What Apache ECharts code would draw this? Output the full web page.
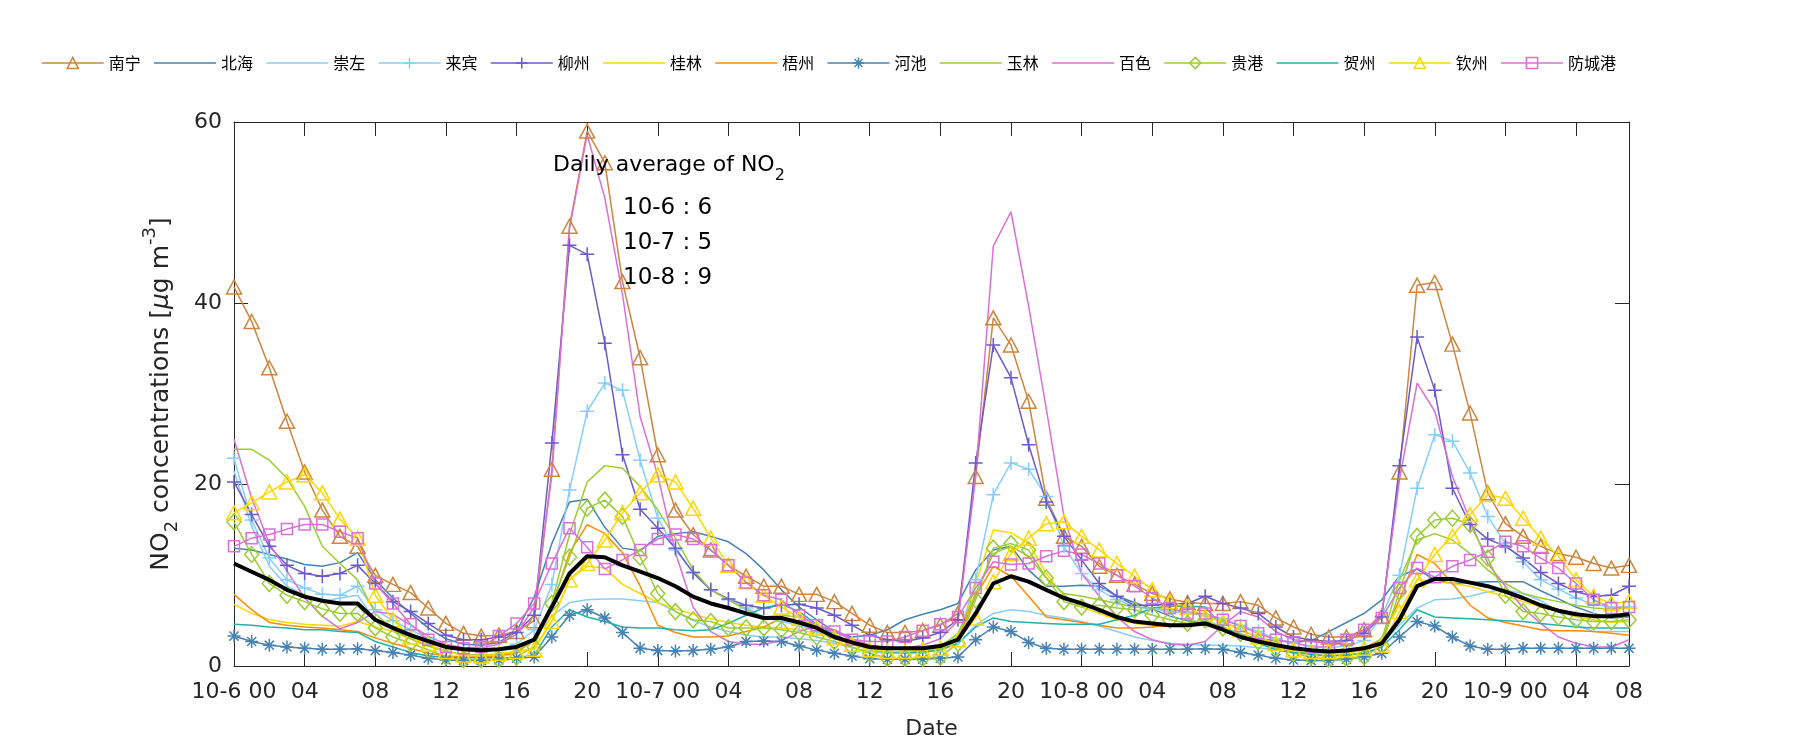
<!DOCTYPE html>
<html><head><meta charset="utf-8">
<script src="https://cdn.jsdelivr.net/npm/echarts@6/dist/echarts.min.js"></script>
<style>html,body{margin:0;padding:0;background:#fff}#c{width:1800px;height:750px}</style>
</head><body><div id="c"></div>
<script>
const tickValues = [0,4,8,12,16,20,24,28,32,36,40,44,48,52,56,60,64,68,72,76,79];
const tickLabels = ['10-6 00','04','08','12','16','20','10-7 00','04','08','12','16','20','10-8 00','04','08','12','16','20','10-9 00','04','08'];
const yTicks = [0, 20, 40, 60];

const nanning = [41.8,38.0,32.9,27.0,21.4,17.2,14.3,13.2,10.0,9.0, 8.1,6.4,4.7,3.6,3.3,3.4,3.8,5.0,21.7,48.5, 59.0,55.5,42.4,34.0,23.3,17.2,14.5,12.8,11.1,9.9, 8.8,8.8,7.9,7.9,7.1,5.8,4.5,3.7,3.7,3.9, 4.5,5.8,20.9,38.4,35.4,29.2,18.5,14.3,13.2,11.0, 10.0,9.0,8.0,7.4,7.0,6.9,6.9,7.1,6.7,5.3, 4.3,3.5,3.2,3.2,4.0,5.5,21.4,42.0,42.3,35.5, 27.9,19.1,15.7,14.3,13.2,12.4,12.0,11.3,10.8,11.1];
const beihai = [13.0,12.8,12.3,11.8,11.2,11.0,11.4,12.5,9.5,7.5, 5.8,4.2,3.0,2.4,2.3,2.6,3.8,7.6,13.5,18.1, 18.4,15.3,13.0,12.7,14.3,14.6,14.8,14.3,13.7,12.4, 10.6,8.4,6.5,5.1,3.8,3.2,3.4,4.0,5.1,5.7, 6.2,6.9,10.6,12.8,13.2,10.6,8.8,8.8,8.9,8.8, 7.7,7.0,6.3,5.5,5.0,4.8,4.0,3.5,3.0,2.8, 2.6,2.8,3.8,4.8,5.8,7.3,9.9,10.7,9.5,9.1, 9.2,9.3,9.3,9.3,8.3,7.4,6.5,5.8,5.3,5.4];
const chongzuo = [21.5,15.4,11.0,8.8,7.8,7.1,7.5,7.8,5.0,4.0, 3.2,2.5,2.0,1.7,1.7,1.8,2.2,3.0,5.5,7.0, 7.3,7.4,7.4,7.2,7.0,6.0,5.0,4.3,3.8,3.4, 3.2,3.2,3.0,2.8,2.5,2.0,1.6,1.4,1.4,1.5, 1.8,2.5,4.5,5.8,6.2,6.0,5.6,5.3,4.9,4.4, 3.8,3.2,2.8,2.5,2.4,2.3,2.3,2.2,2.0,1.8, 1.5,1.4,1.4,1.5,1.8,2.5,4.5,6.4,7.3,7.4, 7.7,8.2,8.4,8.0,7.2,6.0,4.5,3.8,3.8,3.8];
const laibin = [22.9,16.1,11.9,9.5,8.6,7.9,7.8,8.8,6.2,5.0, 4.0,3.0,2.2,1.8,1.7,1.9,2.4,4.0,9.0,19.4, 28.1,31.2,30.4,22.7,16.3,12.8,10.3,8.4,7.3,6.4, 5.4,4.9,4.5,3.8,3.2,2.5,2.1,1.95,1.95,2.0, 2.3,3.0,9.5,18.9,22.4,21.7,18.7,13.2,10.2,8.4, 7.3,6.5,6.3,6.0,5.8,5.6,5.2,4.5,3.8,3.0, 2.5,2.2,2.0,2.2,2.8,5.5,10.0,19.6,25.5,24.8, 21.3,16.5,13.5,11.5,9.5,8.5,7.5,6.8,6.5,6.5];
const liuzhou = [20.3,16.7,13.2,11.1,10.2,9.9,10.2,11.1,9.1,7.1, 6.0,4.7,3.4,2.9,2.9,3.2,3.7,5.6,24.6,46.4, 45.4,35.6,23.3,17.3,15.2,13.0,10.3,8.4,7.4,6.7, 6.4,6.7,6.8,6.4,5.6,4.5,3.4,2.9,2.7,3.1, 3.7,5.1,22.4,35.4,31.8,24.4,18.1,14.3,11.7,9.1, 7.7,6.7,6.7,6.8,6.9,7.7,6.9,6.4,5.8,4.3, 3.2,2.9,2.7,2.8,3.6,5.4,22.1,36.3,30.4,19.6, 15.6,14.0,13.2,11.9,10.3,9.1,8.2,7.7,7.8,8.8];
const guilin = [6.8,5.8,5.1,4.8,4.6,4.5,4.4,4.9,4.3,3.8, 3.0,2.2,1.6,1.2,1.1,1.2,1.5,2.0,5.0,9.5, 11.0,10.8,9.0,8.0,7.0,6.3,5.7,5.2,4.8,4.5, 4.3,4.2,4.0,3.6,3.0,2.4,1.8,1.5,1.4,1.5, 1.8,2.5,9.1,15.0,14.7,13.5,10.2,7.7,6.5,5.8, 5.1,4.7,4.5,4.5,4.5,4.5,4.0,3.2,2.5,1.95, 1.6,1.4,1.3,1.4,1.8,2.5,5.4,9.5,9.3,9.1, 8.8,8.2,7.7,7.1,6.5,6.0,5.4,5.1,4.8,4.9];
const wuzhou = [7.9,6.2,4.8,4.5,4.3,4.2,4.0,3.8,3.1,2.5, 1.95,1.4,1.1,1.0,1.0,1.1,1.4,3.0,6.5,12.5, 15.6,14.6,12.5,8.8,4.5,3.7,3.2,3.2,3.3,3.8, 4.3,5.3,4.9,4.2,3.2,2.5,1.95,1.6,1.5,1.6, 2.0,3.0,7.7,11.0,9.9,7.7,5.4,5.1,4.8,4.5, 4.2,4.2,4.3,4.5,4.7,4.9,4.3,3.4,2.7,2.1, 1.8,1.6,1.5,1.6,2.0,3.0,7.3,12.3,11.3,9.1, 6.7,5.3,4.8,4.4,4.0,3.9,3.9,3.8,3.6,3.4];
const hechi = [3.3,2.7,2.3,2.1,1.95,1.85,1.85,1.9,1.7,1.5, 1.2,0.85,0.66,0.6,0.6,0.66,0.85,1.0,3.2,5.6, 6.2,5.3,3.7,1.95,1.7,1.65,1.7,1.85,2.1,2.7, 2.75,2.7,2.2,1.75,1.4,1.1,0.8,0.75,0.75,0.75, 0.85,1.0,2.9,4.3,3.8,2.6,1.95,1.85,1.85,1.85, 1.85,1.85,1.85,1.85,1.85,1.9,1.85,1.5,1.2,0.85, 0.66,0.6,0.6,0.75,1.0,1.4,3.2,4.9,4.4,3.2, 2.2,1.85,1.85,1.95,1.95,1.95,1.95,1.95,1.95,1.95];
const yulin = [23.9,23.9,22.7,20.7,17.6,13.2,11.3,9.5,5.8,4.0, 3.0,2.2,1.6,1.3,1.2,1.3,1.6,3.0,7.0,14.5, 20.3,22.1,21.8,19.8,17.2,14.1,10.6,8.4,7.3,6.2, 5.4,5.6,5.4,4.3,3.2,2.5,1.95,1.6,1.4,1.6, 2.1,3.6,8.0,12.4,13.2,12.1,9.7,8.0,7.7,7.3, 6.9,6.5,6.4,6.2,6.0,5.6,4.9,4.0,3.1,2.3, 1.8,1.2,1.1,1.2,1.4,2.9,9.5,13.9,14.6,13.9, 12.4,10.6,9.1,8.0,7.5,7.1,6.7,6.4,6.3,6.4];
const baise = [25.0,18.5,13.5,10.5,7.5,5.5,4.1,4.8,6.0,5.7, 4.5,3.3,2.4,2.0,2.0,2.4,3.5,6.5,21.0,48.3, 58.6,51.6,41.0,27.5,21.0,12.5,6.5,3.8,2.7,2.4, 2.4,2.8,3.8,4.4,4.0,3.0,2.3,2.0,2.0,2.3, 3.0,5.0,20.9,46.3,50.1,39.7,28.4,16.5,10.2,7.7, 5.4,3.8,2.9,2.4,2.3,2.7,4.5,6.0,5.4,3.8, 2.9,2.7,2.5,2.7,3.8,5.8,20.5,31.2,28.1,20.9, 16.1,11.3,8.8,6.4,4.7,3.2,2.5,2.1,2.1,2.9];
const guigang = [15.9,12.3,9.1,7.8,7.1,6.3,5.8,5.8,4.2,3.2, 2.5,1.8,1.0,0.7,0.7,0.75,1.0,2.1,6.9,12.0, 17.4,18.3,16.5,12.0,8.0,6.0,5.1,4.9,4.2,4.2, 4.2,4.0,3.7,3.2,2.7,2.1,1.4,0.85,0.85,0.85, 1.0,2.5,7.3,13.0,13.5,12.8,9.7,7.1,6.5,6.7, 6.4,6.2,5.6,5.1,4.7,5.1,4.2,3.6,2.7,1.95, 1.4,1.0,0.75,0.85,1.0,2.3,8.2,14.3,16.1,16.3, 15.6,11.9,7.8,6.0,5.8,5.4,5.1,4.9,4.9,5.1];
const hezhou = [4.6,4.5,4.3,4.2,4.0,4.0,3.8,3.7,2.7,2.1, 1.5,1.1,0.95,0.9,0.9,0.9,0.95,1.2,4.3,6.2, 5.4,4.9,4.3,4.2,4.2,4.0,3.9,4.0,4.7,5.6, 6.4,6.8,6.0,4.6,3.5,2.5,1.8,1.5,1.5,1.5, 1.8,2.5,4.3,5.3,4.9,4.8,4.7,4.6,4.6,4.6, 5.1,5.6,6.4,6.6,6.6,6.5,4.3,3.4,2.5,1.8, 1.5,1.3,1.1,1.2,1.4,2.1,4.0,6.2,5.4,5.3, 5.2,5.1,5.0,4.9,4.7,4.5,4.3,4.2,4.2,4.2];
const qinzhou = [16.9,18.0,19.2,20.3,21.1,19.1,16.2,14.1,7.8,5.1, 3.2,2.4,1.6,1.2,1.1,1.4,1.6,1.85,4.9,9.5, 11.3,13.9,16.9,19.1,21.1,20.3,17.4,14.1,11.1,9.3, 7.8,6.5,5.3,4.2,3.1,2.4,1.8,1.6,1.6,1.8, 1.95,2.9,5.3,9.3,12.4,14.1,15.7,15.9,14.3,12.8, 11.3,9.9,8.4,7.1,6.5,5.4,4.9,4.0,3.2,2.5, 1.8,1.6,1.6,1.8,1.95,2.3,6.0,9.5,12.3,14.3, 16.7,18.9,18.5,16.3,14.1,12.1,9.5,7.7,6.9,7.1];
const fangchenggang = [13.2,14.1,14.5,15.1,15.6,15.6,14.8,14.1,9.1,6.9, 4.6,2.9,2.1,1.95,2.1,3.3,4.7,6.9,11.3,15.2, 13.1,10.7,11.7,12.8,14.0,14.5,14.0,12.8,11.1,9.2, 7.8,7.3,5.6,4.5,3.8,2.9,2.7,2.7,3.2,3.9, 4.6,5.4,8.6,11.5,11.2,11.3,12.1,12.7,12.3,11.3, 10.0,8.8,7.5,6.4,5.8,5.8,5.1,4.4,3.6,2.9, 2.6,2.1,2.1,2.9,4.0,5.3,8.6,10.8,9.8,11.0, 11.7,12.6,13.7,13.2,11.9,10.8,9.1,7.3,6.4,6.5];
const average = [11.3,10.4,9.5,8.4,7.65,7.2,6.9,6.9,5.1,4.2, 3.4,2.75,2.1,1.85,1.75,1.85,2.1,2.9,6.5,10.2, 12.1,12.0,11.1,10.4,9.7,8.8,7.65,6.9,6.4,5.8, 5.3,5.3,4.8,4.2,3.2,2.6,2.1,1.95,1.95,1.95, 2.2,2.9,5.8,9.1,9.9,9.3,8.4,7.5,6.9,6.2, 5.4,4.9,4.7,4.5,4.5,4.7,4.0,3.2,2.7,2.3, 1.95,1.75,1.6,1.7,1.95,2.5,5.1,8.8,9.6,9.6, 9.2,8.8,8.2,7.5,6.7,6.1,5.7,5.5,5.5,5.7];

const dailyAvgDates = ['10-6', '10-7', '10-8'];
const dailyAvgValues = [6, 5, 9];

const PLUS = 'path://M0,-1L0,1M-1,0L1,0';
const STAR = 'path://M0,-1L0,1M-1,0L1,0M-0.7,-0.7L0.7,0.7M-0.7,0.7L0.7,-0.7';

const cities = [
  {name:'南宁', data:nanning, color:'#CD853F', symbol:'triangle', size:[15,14]},
  {name:'北海', data:beihai, color:'#4682B4'},
  {name:'崇左', data:chongzuo, color:'#87CEFA'},
  {name:'来宾', data:laibin, color:'#87CEFA', symbol:PLUS, size:14},
  {name:'柳州', data:liuzhou, color:'#6A5ACD', symbol:PLUS, size:14},
  {name:'桂林', data:guilin, color:'#FFD700'},
  {name:'梧州', data:wuzhou, color:'#FF8C00'},
  {name:'河池', data:hechi, color:'#4682B4', symbol:STAR, size:13},
  {name:'玉林', data:yulin, color:'#9ACD32'},
  {name:'百色', data:baise, color:'#DA70D6'},
  {name:'贵港', data:guigang, color:'#9ACD32', symbol:'diamond', size:[14,16]},
  {name:'贺州', data:hezhou, color:'#20B2AA'},
  {name:'钦州', data:qinzhou, color:'#FFD700', symbol:'triangle', size:[15,14]},
  {name:'防城港', data:fangchenggang, color:'#DA70D6', symbol:'rect', size:11}
];

const AX = '#262626';
const FONT = 'DejaVu Sans';

const series = cities.map(c => ({
  type: 'line',
  name: c.name,
  data: c.data.map((v, i) => [i, v]),
  symbol: c.symbol || 'none',
  symbolSize: c.size || 0,
  symbolKeepAspect: true,
  showSymbol: !!c.symbol,
  lineStyle: {color: c.color, width: 1.5},
  itemStyle: c.symbol ? {color: 'transparent', borderColor: c.color, borderWidth: 1.5}
                      : {color: 'transparent', borderColor: 'transparent', borderWidth: 0},
  emphasis: {disabled: true},
  silent: true,
  z: 2
}));
series.push({
  type: 'line', name: 'average',
  data: average.map((v, i) => [i, v]),
  symbol: 'none', showSymbol: false,
  lineStyle: {color: '#000', width: 4},
  itemStyle: {color: '#000'},
  emphasis: {disabled: true}, silent: true, z: 3
});

const tickFmt = v => { const k = tickValues.indexOf(v); return k >= 0 ? tickLabels[k] : ''; };
const frameLine = {show: true, onZero: false, lineStyle: {color: AX, width: 1}};
const frameTick = {show: true, inside: true, length: 14, lineStyle: {color: AX}};

const option = {
  animation: false,
  backgroundColor: '#fff',
  textStyle: {fontFamily: FONT},
  grid: {left: 234, right: 171, top: 122, bottom: 84, containLabel: false},
  legend: {
    data: cities.map(c => c.name),
    left: 36, top: 50,
    itemWidth: 62, itemHeight: 14, itemGap: 12.5,
    textStyle: {fontFamily: 'Noto Sans CJK SC', fontSize: 16, color: '#000', width: 35},
    lineStyle: {width: 1.5},
    itemStyle: {borderWidth: 1.5},
    selectedMode: false
  },
  xAxis: [{
    type: 'value', min: 0, max: 79, interval: 4,
    name: 'Date', nameLocation: 'middle', nameGap: 52,
    nameTextStyle: {fontFamily: FONT, fontSize: 22, color: AX},
    axisLine: frameLine, axisTick: frameTick,
    axisLabel: {show: true, margin: 15, fontFamily: FONT, fontSize: 22, color: AX, formatter: tickFmt},
    splitLine: {show: false}
  }, {
    type: 'value', min: 0, max: 79, interval: 4, position: 'top',
    axisLine: frameLine, axisTick: frameTick,
    axisLabel: {show: false}, splitLine: {show: false}
  }],
  yAxis: [{
    type: 'value', min: yTicks[0], max: yTicks[yTicks.length - 1], interval: 20,
    name: 'NO{sub|2} concentrations [{it|μ}g m{sup|-3}]',
    nameLocation: 'middle', nameGap: 53,
    nameTextStyle: {
      fontFamily: FONT, fontSize: 25, color: AX, lineHeight: 40,
      rich: {
        sub: {fontFamily: FONT, fontSize: 18, lineHeight: 14, verticalAlign: 'bottom', color: AX},
        sup: {fontFamily: FONT, fontSize: 18, lineHeight: 14, verticalAlign: 'top', color: AX},
        it: {fontFamily: FONT, fontSize: 25, lineHeight: 40, fontStyle: 'italic', color: AX}
      }
    },
    axisLine: frameLine, axisTick: frameTick,
    axisLabel: {show: true, margin: 12, fontFamily: FONT, fontSize: 22, color: AX},
    splitLine: {show: false}
  }, {
    type: 'value', min: 0, max: 60, interval: 20, position: 'right',
    axisLine: frameLine, axisTick: frameTick,
    axisLabel: {show: false}, splitLine: {show: false}
  }],
  graphic: [
    {type: 'text', x: 553, y: 165, z: 100,
     style: {text: 'Daily average of NO{sub|2}', fontFamily: FONT, fontSize: 22, fill: '#000',
       lineHeight: 38, verticalAlign: 'middle',
       rich: {sub: {fontFamily: FONT, fontSize: 16, lineHeight: 14, verticalAlign: 'bottom', fill: '#000'}}}}
  ].concat(dailyAvgDates.map((d, i) => ({
    type: 'text', x: 623, y: 208 + i * 35, z: 100,
    style: {text: d + ' : ' + dailyAvgValues[i], fontFamily: FONT, fontSize: 23, fill: '#000', verticalAlign: 'middle'}
  }))),
  series: series
};

const chart = echarts.init(document.getElementById('c'), null, {renderer: 'canvas'});
chart.setOption(option);
</script>
</body></html>
